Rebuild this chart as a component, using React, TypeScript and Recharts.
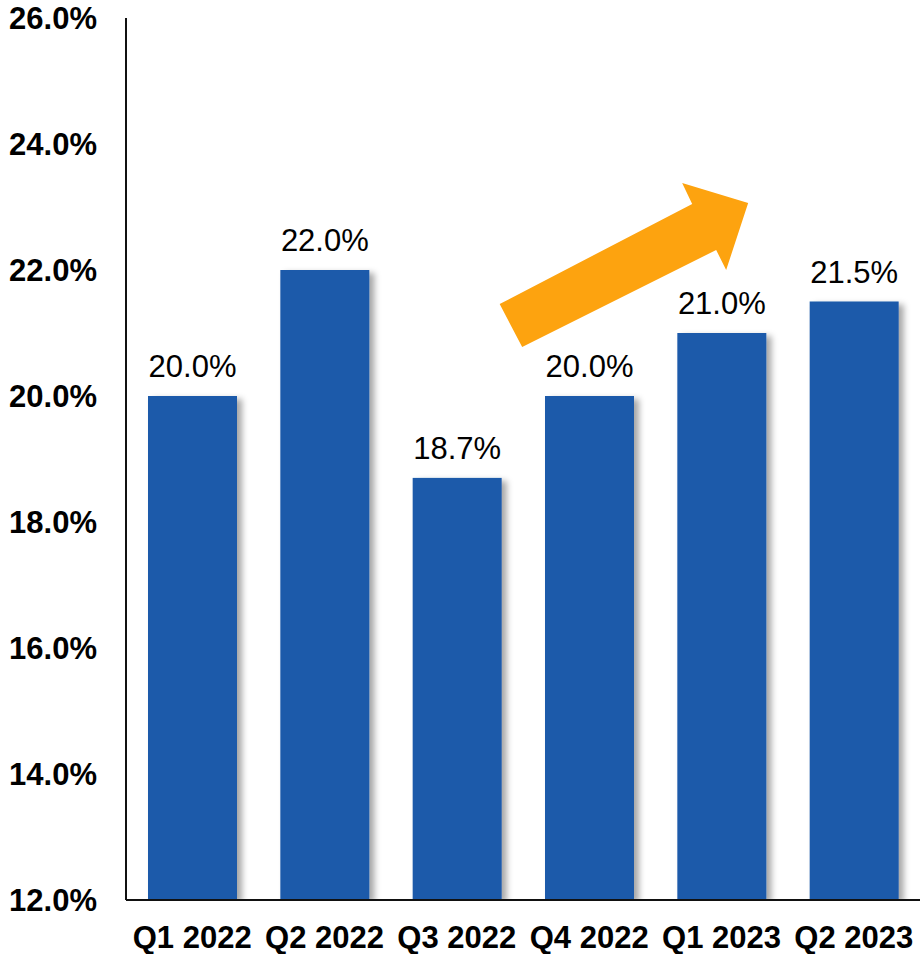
import React from 'react';
import { BarChart, Bar, XAxis, YAxis, LabelList, ReferenceDot } from 'recharts';

const categories = ['Q1 2022', 'Q2 2022', 'Q3 2022', 'Q4 2022', 'Q1 2023', 'Q2 2023'];
const values = [20.0, 22.0, 18.7, 20.0, 21.0, 21.5];
const yTicks = [12, 14, 16, 18, 20, 22, 24, 26];

const data = categories.map((c, i) => ({ name: c, value: values[i] }));

const FONT = '"Liberation Sans", Arial, Helvetica, sans-serif';
const BAR_COLOR = '#1B5AAA';
const ARROW_COLOR = '#FDA30F';

// arrow outline, relative to its anchor point (pixels)
const arrowOffsets: [number, number][] = [
  [-89.5, 34],
  [103, -66],
  [93, -87],
  [159, -67],
  [137, 0],
  [127, -20],
  [-67, 77],
];

const ArrowShape = (props: any) => {
  const { cx, cy } = props;
  if (cx == null || cy == null) return null;
  const pts = arrowOffsets.map(([dx, dy]) => `${cx + dx},${cy + dy}`).join(' ');
  return <polygon points={pts} fill={ARROW_COLOR} />;
};

const ShadowBar = (props: any) => {
  const { x, y, width, height } = props;
  return <rect x={x} y={y} width={width} height={height} fill={BAR_COLOR} filter="url(#barShadow)" />;
};

export default function App() {
  return (
    <div style={{ position: 'absolute', left: 0, top: 0, width: 920, height: 954, background: '#fff' }}>
      <BarChart
        width={920}
        height={954}
        data={data}
        margin={{ top: 18, right: 0, bottom: 0, left: 0 }}
        style={{ fontFamily: FONT }}
      >
        <defs>
          <filter id="barShadow" x="-20%" y="-10%" width="150%" height="130%">
            <feDropShadow dx="5" dy="3" stdDeviation="3" floodColor="#000" floodOpacity="0.35" />
          </filter>
        </defs>
        <XAxis
          dataKey="name"
          height={54}
          axisLine={{ stroke: '#111', strokeWidth: 2 }}
          tickLine={false}
          tickSize={0}
          tickMargin={26}
          interval={0}
          tick={{ fill: '#000', fontSize: 31, fontWeight: 'bold', fontFamily: FONT }}
        />
        <YAxis
          domain={[12, 26]}
          ticks={yTicks}
          width={126}
          axisLine={{ stroke: '#111', strokeWidth: 2 }}
          tickLine={false}
          tickSize={0}
          tickMargin={29}
          allowDataOverflow
          tickFormatter={(v: number) => `${v.toFixed(1)}%`}
          tick={{ fill: '#000', fontSize: 31, fontWeight: 'bold', fontFamily: FONT }}
        />
        <Bar dataKey="value" barSize={89} fill={BAR_COLOR} shape={ShadowBar} isAnimationActive={false}>
          <LabelList
            dataKey="value"
            position="top"
            offset={19}
            formatter={(v: any) => `${Number(v).toFixed(1)}%`}
            style={{ fill: '#000', fontSize: 31, fontFamily: FONT }}
          />
        </Bar>
        <ReferenceDot x="Q4 2022" y={22} r={1} shape={ArrowShape} ifOverflow="visible" />
      </BarChart>
    </div>
  );
}
